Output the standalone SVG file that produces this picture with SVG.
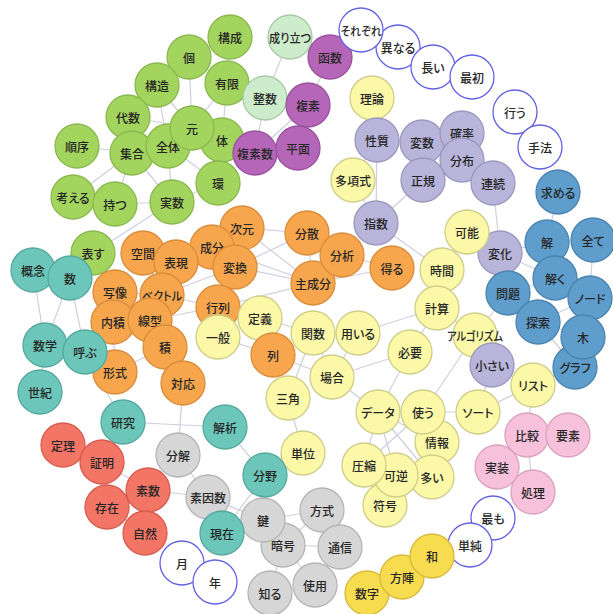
<svg xmlns="http://www.w3.org/2000/svg" width="613" height="614" viewBox="0 0 613 614">
<style>
text{font-family:"Noto Sans CJK JP","Noto Sans",sans-serif;font-size:12px;font-weight:500;fill:#262626;text-anchor:middle;dominant-baseline:central;font-feature-settings:"palt"}
circle{stroke-width:1.3}
#edges line{stroke:#cfcfdd;stroke-width:1.2}
.gr circle{fill:#a2d45e;stroke:#8cb850}
.lg circle{fill:#cdeccb;stroke:#a9c9a6}
.pu circle{fill:#b566b8;stroke:#9b529e}
.lv circle{fill:#b8b4da;stroke:#9c98bf}
.ye circle{fill:#fbf9a8;stroke:#cfcd8a}
.or circle{fill:#f7a64e;stroke:#d98d3c}
.bl circle{fill:#5f9dcc;stroke:#4a84b0}
.te circle{fill:#6cc6b9;stroke:#56a99d}
.re circle{fill:#f37566;stroke:#d65d4f}
.ga circle{fill:#d6d6d6;stroke:#b5b5b5}
.pk circle{fill:#f7c1dc;stroke:#d9a2bd}
.go circle{fill:#f8dc50;stroke:#d6ba3c}
.wh circle{fill:#ffffff;stroke:#6262e4}
</style>
<rect width="613" height="614" fill="#ffffff"/>
<g id="edges">
<line x1="189" y1="57" x2="192" y2="128"/>
<line x1="230" y1="37" x2="227" y2="83"/>
<line x1="227" y1="83" x2="192" y2="128"/>
<line x1="227" y1="83" x2="222" y2="140"/>
<line x1="157" y1="85" x2="168" y2="146"/>
<line x1="157" y1="85" x2="192" y2="128"/>
<line x1="128" y1="117" x2="132" y2="153"/>
<line x1="128" y1="117" x2="192" y2="128"/>
<line x1="77" y1="146" x2="132" y2="153"/>
<line x1="132" y1="153" x2="168" y2="146"/>
<line x1="132" y1="153" x2="115" y2="204"/>
<line x1="132" y1="153" x2="73" y2="197"/>
<line x1="132" y1="153" x2="172" y2="202"/>
<line x1="168" y1="146" x2="172" y2="202"/>
<line x1="168" y1="146" x2="218" y2="183"/>
<line x1="222" y1="140" x2="218" y2="183"/>
<line x1="218" y1="183" x2="172" y2="202"/>
<line x1="115" y1="204" x2="172" y2="202"/>
<line x1="73" y1="197" x2="115" y2="204"/>
<line x1="172" y1="202" x2="93" y2="253"/>
<line x1="93" y1="253" x2="70" y2="278"/>
<line x1="222" y1="140" x2="255" y2="153"/>
<line x1="265" y1="98" x2="290" y2="37"/>
<line x1="265" y1="98" x2="255" y2="153"/>
<line x1="265" y1="98" x2="227" y2="83"/>
<line x1="308" y1="105" x2="330" y2="57"/>
<line x1="308" y1="105" x2="298" y2="148"/>
<line x1="308" y1="105" x2="255" y2="153"/>
<line x1="298" y1="148" x2="255" y2="153"/>
<line x1="33" y1="270" x2="45" y2="345"/>
<line x1="70" y1="278" x2="45" y2="345"/>
<line x1="70" y1="278" x2="85" y2="352"/>
<line x1="85" y1="352" x2="123" y2="422"/>
<line x1="123" y1="422" x2="225" y2="427"/>
<line x1="225" y1="427" x2="265" y2="475"/>
<line x1="265" y1="475" x2="222" y2="533"/>
<line x1="265" y1="475" x2="263" y2="520"/>
<line x1="45" y1="345" x2="40" y2="392"/>
<line x1="183" y1="383" x2="178" y2="455"/>
<line x1="63" y1="445" x2="102" y2="462"/>
<line x1="102" y1="462" x2="107" y2="507"/>
<line x1="102" y1="462" x2="148" y2="490"/>
<line x1="148" y1="490" x2="107" y2="507"/>
<line x1="148" y1="490" x2="145" y2="533"/>
<line x1="107" y1="507" x2="145" y2="533"/>
<line x1="148" y1="490" x2="208" y2="497"/>
<line x1="178" y1="455" x2="208" y2="497"/>
<line x1="208" y1="497" x2="222" y2="533"/>
<line x1="208" y1="497" x2="263" y2="520"/>
<line x1="222" y1="533" x2="263" y2="520"/>
<line x1="263" y1="520" x2="322" y2="510"/>
<line x1="263" y1="520" x2="283" y2="545"/>
<line x1="283" y1="545" x2="340" y2="547"/>
<line x1="322" y1="510" x2="340" y2="547"/>
<line x1="283" y1="545" x2="322" y2="510"/>
<line x1="283" y1="545" x2="270" y2="593"/>
<line x1="283" y1="545" x2="315" y2="585"/>
<line x1="242" y1="228" x2="307" y2="233"/>
<line x1="242" y1="228" x2="235" y2="267"/>
<line x1="242" y1="228" x2="313" y2="283"/>
<line x1="212" y1="247" x2="313" y2="283"/>
<line x1="212" y1="247" x2="235" y2="267"/>
<line x1="235" y1="267" x2="307" y2="233"/>
<line x1="235" y1="267" x2="313" y2="283"/>
<line x1="235" y1="267" x2="218" y2="307"/>
<line x1="176" y1="262" x2="235" y2="267"/>
<line x1="143" y1="253" x2="162" y2="295"/>
<line x1="176" y1="262" x2="162" y2="295"/>
<line x1="115" y1="292" x2="162" y2="295"/>
<line x1="115" y1="292" x2="113" y2="322"/>
<line x1="162" y1="295" x2="150" y2="320"/>
<line x1="150" y1="320" x2="113" y2="322"/>
<line x1="150" y1="320" x2="165" y2="347"/>
<line x1="165" y1="347" x2="115" y2="372"/>
<line x1="165" y1="347" x2="183" y2="383"/>
<line x1="218" y1="307" x2="162" y2="295"/>
<line x1="218" y1="307" x2="150" y2="320"/>
<line x1="218" y1="307" x2="218" y2="337"/>
<line x1="218" y1="307" x2="260" y2="318"/>
<line x1="307" y1="233" x2="342" y2="255"/>
<line x1="307" y1="233" x2="313" y2="283"/>
<line x1="342" y1="255" x2="313" y2="283"/>
<line x1="342" y1="255" x2="392" y2="268"/>
<line x1="313" y1="283" x2="392" y2="268"/>
<line x1="235" y1="267" x2="162" y2="295"/>
<line x1="212" y1="247" x2="176" y2="262"/>
<line x1="273" y1="355" x2="260" y2="318"/>
<line x1="273" y1="355" x2="218" y2="337"/>
<line x1="115" y1="372" x2="113" y2="322"/>
<line x1="313" y1="283" x2="218" y2="307"/>
<line x1="242" y1="228" x2="212" y2="247"/>
<line x1="260" y1="318" x2="313" y2="333"/>
<line x1="313" y1="333" x2="358" y2="333"/>
<line x1="313" y1="333" x2="332" y2="377"/>
<line x1="313" y1="333" x2="288" y2="398"/>
<line x1="273" y1="355" x2="332" y2="377"/>
<line x1="288" y1="398" x2="303" y2="453"/>
<line x1="358" y1="333" x2="437" y2="308"/>
<line x1="358" y1="333" x2="332" y2="377"/>
<line x1="410" y1="352" x2="437" y2="308"/>
<line x1="410" y1="352" x2="332" y2="377"/>
<line x1="410" y1="352" x2="378" y2="412"/>
<line x1="437" y1="308" x2="442" y2="270"/>
<line x1="442" y1="270" x2="467" y2="232"/>
<line x1="442" y1="270" x2="376" y2="223"/>
<line x1="437" y1="308" x2="475" y2="335"/>
<line x1="475" y1="335" x2="492" y2="365"/>
<line x1="475" y1="335" x2="423" y2="412"/>
<line x1="378" y1="412" x2="423" y2="412"/>
<line x1="423" y1="412" x2="478" y2="412"/>
<line x1="478" y1="412" x2="533" y2="385"/>
<line x1="478" y1="412" x2="492" y2="365"/>
<line x1="378" y1="412" x2="437" y2="442"/>
<line x1="378" y1="412" x2="364" y2="465"/>
<line x1="378" y1="412" x2="396" y2="475"/>
<line x1="378" y1="412" x2="432" y2="477"/>
<line x1="423" y1="412" x2="437" y2="442"/>
<line x1="423" y1="412" x2="432" y2="477"/>
<line x1="423" y1="412" x2="364" y2="465"/>
<line x1="437" y1="442" x2="432" y2="477"/>
<line x1="364" y1="465" x2="396" y2="475"/>
<line x1="396" y1="475" x2="385" y2="505"/>
<line x1="364" y1="465" x2="385" y2="505"/>
<line x1="432" y1="477" x2="396" y2="475"/>
<line x1="332" y1="377" x2="378" y2="412"/>
<line x1="508" y1="293" x2="475" y2="335"/>
<line x1="376" y1="223" x2="353" y2="180"/>
<line x1="377" y1="140" x2="376" y2="223"/>
<line x1="377" y1="140" x2="372" y2="98"/>
<line x1="377" y1="140" x2="353" y2="180"/>
<line x1="377" y1="140" x2="422" y2="142"/>
<line x1="422" y1="142" x2="462" y2="133"/>
<line x1="422" y1="142" x2="462" y2="160"/>
<line x1="422" y1="142" x2="423" y2="180"/>
<line x1="423" y1="180" x2="462" y2="160"/>
<line x1="462" y1="133" x2="462" y2="160"/>
<line x1="462" y1="160" x2="493" y2="183"/>
<line x1="423" y1="180" x2="376" y2="223"/>
<line x1="493" y1="183" x2="500" y2="253"/>
<line x1="500" y1="253" x2="547" y2="242"/>
<line x1="500" y1="253" x2="508" y2="293"/>
<line x1="500" y1="253" x2="555" y2="278"/>
<line x1="558" y1="192" x2="547" y2="242"/>
<line x1="593" y1="240" x2="590" y2="298"/>
<line x1="547" y1="242" x2="555" y2="278"/>
<line x1="555" y1="278" x2="508" y2="293"/>
<line x1="555" y1="278" x2="590" y2="298"/>
<line x1="508" y1="293" x2="538" y2="322"/>
<line x1="538" y1="322" x2="583" y2="337"/>
<line x1="538" y1="322" x2="590" y2="298"/>
<line x1="583" y1="337" x2="590" y2="298"/>
<line x1="583" y1="337" x2="575" y2="367"/>
<line x1="538" y1="322" x2="575" y2="367"/>
<line x1="575" y1="367" x2="533" y2="385"/>
<line x1="547" y1="242" x2="593" y2="240"/>
<line x1="527" y1="435" x2="568" y2="435"/>
<line x1="527" y1="435" x2="497" y2="467"/>
<line x1="497" y1="467" x2="533" y2="492"/>
<line x1="527" y1="435" x2="533" y2="492"/>
<line x1="533" y1="385" x2="527" y2="435"/>
<line x1="432" y1="556" x2="402" y2="577"/>
<line x1="402" y1="577" x2="367" y2="593"/>
<line x1="470" y1="545" x2="432" y2="556"/>
</g>
<g id="n-kousei" class="gr"><circle cx="230" cy="37" r="22"/><text x="230" y="37">構成</text></g>
<g id="n-ko" class="gr"><circle cx="189" cy="57" r="22"/><text x="189" y="57">個</text></g>
<g id="n-yuugen" class="gr"><circle cx="227" cy="83" r="22"/><text x="227" y="83">有限</text></g>
<g id="n-kouzou" class="gr"><circle cx="157" cy="85" r="22"/><text x="157" y="85">構造</text></g>
<g id="n-daisuu" class="gr"><circle cx="128" cy="117" r="22"/><text x="128" y="117">代数</text></g>
<g id="n-junjo" class="gr"><circle cx="77" cy="146" r="22"/><text x="77" y="146">順序</text></g>
<g id="n-shuugou" class="gr"><circle cx="132" cy="153" r="22"/><text x="132" y="153">集合</text></g>
<g id="n-zentai" class="gr"><circle cx="168" cy="146" r="22"/><text x="168" y="146">全体</text></g>
<g id="n-tai" class="gr"><circle cx="222" cy="140" r="22"/><text x="222" y="140">体</text></g>
<g id="n-fukusosuu" class="pu"><circle cx="255" cy="153" r="22"/><text x="255" y="153">複素数</text></g>
<g id="n-gen" class="gr"><circle cx="192" cy="128" r="22"/><text x="192" y="128">元</text></g>
<g id="n-kan" class="gr"><circle cx="218" cy="183" r="22"/><text x="218" y="183">環</text></g>
<g id="n-kangaeru" class="gr"><circle cx="73" cy="197" r="22"/><text x="73" y="197">考える</text></g>
<g id="n-motsu" class="gr"><circle cx="115" cy="204" r="22"/><text x="115" y="204">持つ</text></g>
<g id="n-jissuu" class="gr"><circle cx="172" cy="202" r="22"/><text x="172" y="202">実数</text></g>
<g id="n-arawasu" class="gr"><circle cx="93" cy="253" r="22"/><text x="93" y="253">表す</text></g>
<g id="n-naritatsu" class="lg"><circle cx="290" cy="37" r="22"/><text x="290" y="37" textLength="42" lengthAdjust="spacingAndGlyphs">成り立つ</text></g>
<g id="n-seisuu" class="lg"><circle cx="265" cy="98" r="22"/><text x="265" y="98">整数</text></g>
<g id="n-kansuu2" class="pu"><circle cx="330" cy="57" r="22"/><text x="330" y="57">函数</text></g>
<g id="n-fukuso" class="pu"><circle cx="308" cy="105" r="22"/><text x="308" y="105">複素</text></g>
<g id="n-heimen" class="pu"><circle cx="298" cy="148" r="22"/><text x="298" y="148">平面</text></g>
<g id="n-kotonaru" class="wh"><circle cx="398" cy="47" r="22"/><text x="398" y="47">異なる</text></g>
<g id="n-sorezore" class="wh"><circle cx="361" cy="30" r="22"/><text x="361" y="30" textLength="41" lengthAdjust="spacingAndGlyphs">それぞれ</text></g>
<g id="n-nagai" class="wh"><circle cx="433" cy="67" r="22"/><text x="433" y="67">長い</text></g>
<g id="n-saisho" class="wh"><circle cx="472" cy="77" r="22"/><text x="472" y="77">最初</text></g>
<g id="n-okonau" class="wh"><circle cx="515" cy="112" r="22"/><text x="515" y="112">行う</text></g>
<g id="n-shuhou" class="wh"><circle cx="540" cy="147" r="22"/><text x="540" y="147">手法</text></g>
<g id="n-riron" class="ye"><circle cx="372" cy="98" r="22"/><text x="372" y="98">理論</text></g>
<g id="n-takoushiki" class="ye"><circle cx="353" cy="180" r="22"/><text x="353" y="180">多項式</text></g>
<g id="n-seishitsu" class="lv"><circle cx="377" cy="140" r="22"/><text x="377" y="140">性質</text></g>
<g id="n-hensuu" class="lv"><circle cx="422" cy="142" r="22"/><text x="422" y="142">変数</text></g>
<g id="n-kakuritsu" class="lv"><circle cx="462" cy="133" r="22"/><text x="462" y="133">確率</text></g>
<g id="n-bunpu" class="lv"><circle cx="462" cy="160" r="22"/><text x="462" y="160">分布</text></g>
<g id="n-seiki" class="lv"><circle cx="423" cy="180" r="22"/><text x="423" y="180">正規</text></g>
<g id="n-renzoku" class="lv"><circle cx="493" cy="183" r="22"/><text x="493" y="183">連続</text></g>
<g id="n-shisuu" class="lv"><circle cx="376" cy="223" r="22"/><text x="376" y="223">指数</text></g>
<g id="n-motomeru" class="bl"><circle cx="558" cy="192" r="22"/><text x="558" y="192">求める</text></g>
<g id="n-kai" class="bl"><circle cx="547" cy="242" r="22"/><text x="547" y="242">解</text></g>
<g id="n-subete" class="bl"><circle cx="593" cy="240" r="22"/><text x="593" y="240">全て</text></g>
<g id="n-henka" class="lv"><circle cx="500" cy="253" r="22"/><text x="500" y="253">変化</text></g>
<g id="n-toku" class="bl"><circle cx="555" cy="278" r="22"/><text x="555" y="278">解く</text></g>
<g id="n-mondai" class="bl"><circle cx="508" cy="293" r="22"/><text x="508" y="293">問題</text></g>
<g id="n-node" class="bl"><circle cx="590" cy="298" r="22"/><text x="590" y="298">ノード</text></g>
<g id="n-tansaku" class="bl"><circle cx="538" cy="322" r="22"/><text x="538" y="322">探索</text></g>
<g id="n-graph" class="bl"><circle cx="575" cy="367" r="22"/><text x="575" y="367">グラフ</text></g>
<g id="n-ki" class="bl"><circle cx="583" cy="337" r="22"/><text x="583" y="337">木</text></g>
<g id="n-jigen" class="or"><circle cx="242" cy="228" r="22"/><text x="242" y="228">次元</text></g>
<g id="n-seibun" class="or"><circle cx="212" cy="247" r="22"/><text x="212" y="247">成分</text></g>
<g id="n-henkan" class="or"><circle cx="235" cy="267" r="22"/><text x="235" y="267">変換</text></g>
<g id="n-bunsan" class="or"><circle cx="307" cy="233" r="22"/><text x="307" y="233">分散</text></g>
<g id="n-shuseibun" class="or"><circle cx="313" cy="283" r="22"/><text x="313" y="283">主成分</text></g>
<g id="n-bunseki" class="or"><circle cx="342" cy="255" r="22"/><text x="342" y="255">分析</text></g>
<g id="n-eru" class="or"><circle cx="392" cy="268" r="22"/><text x="392" y="268">得る</text></g>
<g id="n-kuukan" class="or"><circle cx="143" cy="253" r="22"/><text x="143" y="253">空間</text></g>
<g id="n-hyougen" class="or"><circle cx="176" cy="262" r="22"/><text x="176" y="262">表現</text></g>
<g id="n-vector" class="or"><circle cx="162" cy="295" r="22"/><text x="162" y="295" textLength="40" lengthAdjust="spacingAndGlyphs">ベクトル</text></g>
<g id="n-shazou" class="or"><circle cx="115" cy="292" r="22"/><text x="115" y="292">写像</text></g>
<g id="n-naiseki" class="or"><circle cx="113" cy="322" r="22"/><text x="113" y="322">内積</text></g>
<g id="n-senkei" class="or"><circle cx="150" cy="320" r="22"/><text x="150" y="320">線型</text></g>
<g id="n-seki" class="or"><circle cx="165" cy="347" r="22"/><text x="165" y="347">積</text></g>
<g id="n-keishiki" class="or"><circle cx="115" cy="372" r="22"/><text x="115" y="372">形式</text></g>
<g id="n-taiou" class="or"><circle cx="183" cy="383" r="22"/><text x="183" y="383">対応</text></g>
<g id="n-gyouretsu" class="or"><circle cx="218" cy="307" r="22"/><text x="218" y="307">行列</text></g>
<g id="n-teigi" class="ye"><circle cx="260" cy="318" r="22"/><text x="260" y="318">定義</text></g>
<g id="n-ippan" class="ye"><circle cx="218" cy="337" r="22"/><text x="218" y="337">一般</text></g>
<g id="n-retsu" class="or"><circle cx="273" cy="355" r="22"/><text x="273" y="355">列</text></g>
<g id="n-kansuu" class="ye"><circle cx="313" cy="333" r="22"/><text x="313" y="333">関数</text></g>
<g id="n-mochiiru" class="ye"><circle cx="358" cy="333" r="22"/><text x="358" y="333">用いる</text></g>
<g id="n-kanou" class="ye"><circle cx="467" cy="232" r="22"/><text x="467" y="232">可能</text></g>
<g id="n-jikan" class="ye"><circle cx="442" cy="270" r="22"/><text x="442" y="270">時間</text></g>
<g id="n-keisan" class="ye"><circle cx="437" cy="308" r="22"/><text x="437" y="308">計算</text></g>
<g id="n-algorithm" class="ye"><circle cx="475" cy="335" r="22"/><text x="475" y="335" textLength="56" lengthAdjust="spacingAndGlyphs">アルゴリズム</text></g>
<g id="n-chiisai" class="lv"><circle cx="492" cy="365" r="22"/><text x="492" y="365">小さい</text></g>
<g id="n-hitsuyou" class="ye"><circle cx="410" cy="352" r="22"/><text x="410" y="352">必要</text></g>
<g id="n-baai" class="ye"><circle cx="332" cy="377" r="22"/><text x="332" y="377">場合</text></g>
<g id="n-sankaku" class="ye"><circle cx="288" cy="398" r="22"/><text x="288" y="398">三角</text></g>
<g id="n-tani" class="ye"><circle cx="303" cy="453" r="22"/><text x="303" y="453">単位</text></g>
<g id="n-list" class="ye"><circle cx="533" cy="385" r="22"/><text x="533" y="385">リスト</text></g>
<g id="n-data" class="ye"><circle cx="378" cy="412" r="22"/><text x="378" y="412">データ</text></g>
<g id="n-jouhou" class="ye"><circle cx="437" cy="442" r="22"/><text x="437" y="442">情報</text></g>
<g id="n-tsukau" class="ye"><circle cx="423" cy="412" r="22"/><text x="423" y="412">使う</text></g>
<g id="n-sort" class="ye"><circle cx="478" cy="412" r="22"/><text x="478" y="412">ソート</text></g>
<g id="n-fugou" class="ye"><circle cx="385" cy="505" r="22"/><text x="385" y="505">符号</text></g>
<g id="n-ooi" class="ye"><circle cx="432" cy="477" r="22"/><text x="432" y="477">多い</text></g>
<g id="n-kagyaku" class="ye"><circle cx="396" cy="475" r="22"/><text x="396" y="475">可逆</text></g>
<g id="n-asshuku" class="ye"><circle cx="364" cy="465" r="22"/><text x="364" y="465">圧縮</text></g>
<g id="n-hikaku" class="pk"><circle cx="527" cy="435" r="22"/><text x="527" y="435">比較</text></g>
<g id="n-youso" class="pk"><circle cx="568" cy="435" r="22"/><text x="568" y="435">要素</text></g>
<g id="n-jissou" class="pk"><circle cx="497" cy="467" r="22"/><text x="497" y="467">実装</text></g>
<g id="n-shori" class="pk"><circle cx="533" cy="492" r="22"/><text x="533" y="492">処理</text></g>
<g id="n-mottomo" class="wh"><circle cx="493" cy="518" r="22"/><text x="493" y="518">最も</text></g>
<g id="n-tanjun" class="wh"><circle cx="470" cy="545" r="22"/><text x="470" y="545">単純</text></g>
<g id="n-suuji" class="go"><circle cx="367" cy="593" r="22"/><text x="367" y="593">数字</text></g>
<g id="n-houjin" class="go"><circle cx="402" cy="577" r="22"/><text x="402" y="577">方陣</text></g>
<g id="n-wa" class="go"><circle cx="432" cy="556" r="22"/><text x="432" y="556">和</text></g>
<g id="n-bunkai" class="ga"><circle cx="178" cy="455" r="22"/><text x="178" y="455">分解</text></g>
<g id="n-soinsuu" class="ga"><circle cx="208" cy="497" r="22"/><text x="208" y="497">素因数</text></g>
<g id="n-houshiki" class="ga"><circle cx="322" cy="510" r="22"/><text x="322" y="510">方式</text></g>
<g id="n-tsuushin" class="ga"><circle cx="340" cy="547" r="22"/><text x="340" y="547">通信</text></g>
<g id="n-angou" class="ga"><circle cx="283" cy="545" r="22"/><text x="283" y="545">暗号</text></g>
<g id="n-kagi" class="ga"><circle cx="263" cy="520" r="22"/><text x="263" y="520">鍵</text></g>
<g id="n-shiru" class="ga"><circle cx="270" cy="593" r="22"/><text x="270" y="593">知る</text></g>
<g id="n-shiyou" class="ga"><circle cx="315" cy="585" r="22"/><text x="315" y="585">使用</text></g>
<g id="n-gainen" class="te"><circle cx="33" cy="270" r="22"/><text x="33" y="270">概念</text></g>
<g id="n-kazu" class="te"><circle cx="70" cy="278" r="22"/><text x="70" y="278">数</text></g>
<g id="n-suugaku" class="te"><circle cx="45" cy="345" r="22"/><text x="45" y="345">数学</text></g>
<g id="n-yobu" class="te"><circle cx="85" cy="352" r="22"/><text x="85" y="352">呼ぶ</text></g>
<g id="n-seiki2" class="te"><circle cx="40" cy="392" r="22"/><text x="40" y="392">世紀</text></g>
<g id="n-kenkyuu" class="te"><circle cx="123" cy="422" r="22"/><text x="123" y="422">研究</text></g>
<g id="n-kaiseki" class="te"><circle cx="225" cy="427" r="22"/><text x="225" y="427">解析</text></g>
<g id="n-bunya" class="te"><circle cx="265" cy="475" r="22"/><text x="265" y="475">分野</text></g>
<g id="n-genzai" class="te"><circle cx="222" cy="533" r="22"/><text x="222" y="533">現在</text></g>
<g id="n-teiri" class="re"><circle cx="63" cy="445" r="22"/><text x="63" y="445">定理</text></g>
<g id="n-shoumei" class="re"><circle cx="102" cy="462" r="22"/><text x="102" y="462">証明</text></g>
<g id="n-sonzai" class="re"><circle cx="107" cy="507" r="22"/><text x="107" y="507">存在</text></g>
<g id="n-sosuu" class="re"><circle cx="148" cy="490" r="22"/><text x="148" y="490">素数</text></g>
<g id="n-shizen" class="re"><circle cx="145" cy="533" r="22"/><text x="145" y="533">自然</text></g>
<g id="n-tsuki" class="wh"><circle cx="182" cy="563" r="22"/><text x="182" y="563">月</text></g>
<g id="n-toshi" class="wh"><circle cx="215" cy="582" r="22"/><text x="215" y="582">年</text></g>
</svg>
